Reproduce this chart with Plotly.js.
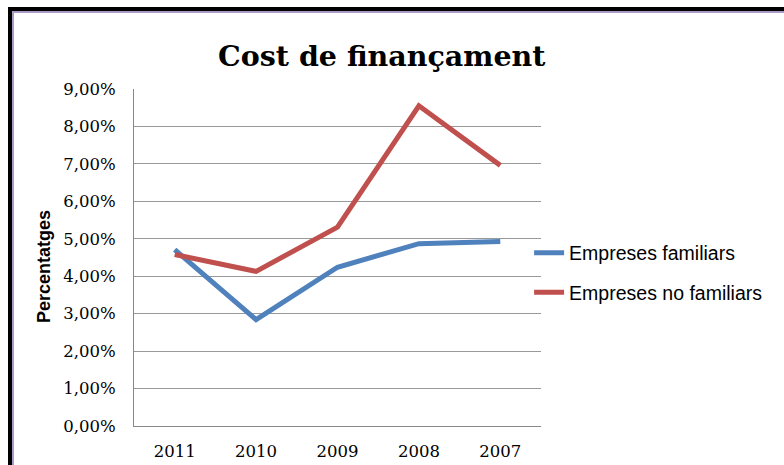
<!DOCTYPE html>
<html><head><meta charset="utf-8">
<script src="https://cdn.plot.ly/plotly-3.0.1.min.js"></script>
<style>
html,body{margin:0;padding:0;background:#fff;width:784px;height:465px;overflow:hidden;}
#frame{position:absolute;left:8px;top:7px;width:900px;height:600px;border-left:4px solid #000;border-top:4px solid #000;}
#inner{position:absolute;left:0;top:0;width:900px;height:600px;border-left:2px solid #a99bc6;border-top:2px solid #a99bc6;}
#chart{position:absolute;left:0;top:0;width:784px;height:465px;}
</style></head>
<body>
<div id="frame"><div id="inner"></div></div>
<div id="chart"></div>
<script>
const years = ['2011','2010','2009','2008','2007'];
const familiars = [0.0471, 0.0284, 0.0424, 0.0487, 0.0493];
const noFamiliars = [0.0458, 0.0413, 0.0531, 0.0855, 0.0696];
const yTicks = [0,0.01,0.02,0.03,0.04,0.05,0.06,0.07,0.08,0.09];

const serif = 'DejaVu Serif, serif';
const sans = 'Liberation Sans, Arial, sans-serif';

const traces = [
  {x: years, y: familiars, type:'scatter', mode:'lines', name:'Empreses familiars',
   line:{color:'#4f81bd', width:5}, legendgroup:'a'},
  {x: years, y: noFamiliars, type:'scatter', mode:'lines', name:'Empreses no familiars',
   line:{color:'#c0504d', width:5}, legendgroup:'b'}
];

const layout = {
  width:784, height:465,
  paper_bgcolor:'rgba(0,0,0,0)', plot_bgcolor:'rgba(0,0,0,0)',
  margin:{l:134, r:200, t:89, b:39},
  separators: ',.',
  title:{text:'<b>Cost de finançament</b>', x:0.487, xanchor:'center', y:0.88, yanchor:'middle',
    font:{family:serif, size:28.5, color:'#000'}},
  xaxis:{type:'category', domain:[0, 0.9044], showgrid:false, showline:true, linecolor:'#888', linewidth:1,
    ticks:'', ticklabelstandoff:10, tickfont:{family:serif, size:16.5, color:'#000'},
    range:[-0.5,4.5], zeroline:false},
  yaxis:{range:[0,0.09], tickvals:yTicks, tickformat:'.2%', showgrid:true, gridcolor:'#999', gridwidth:1,
    showline:true, linecolor:'#888', linewidth:1, zeroline:false, ticks:'', ticklabelstandoff:14,
    tickfont:{family:serif, size:16.5, color:'#000'}},
  annotations:[{text:'<b>Percentatges</b>', xref:'paper', yref:'paper', x:-0.2, y:0.472,
    xanchor:'center', yanchor:'middle', textangle:-90, showarrow:false,
    font:{family:sans, size:18, color:'#000'}}],
  showlegend:true,
  legend:{x:0.878, xanchor:'left', y:0.455, yanchor:'middle', bgcolor:'rgba(0,0,0,0)',
    font:{family:sans, size:19.5, color:'#000'}, borderwidth:0,
    traceorder:'grouped', tracegroupgap:11, itemwidth:30}
};
Plotly.newPlot('chart', traces, layout, {displayModeBar:false, staticPlot:true});
</script>
</body></html>
